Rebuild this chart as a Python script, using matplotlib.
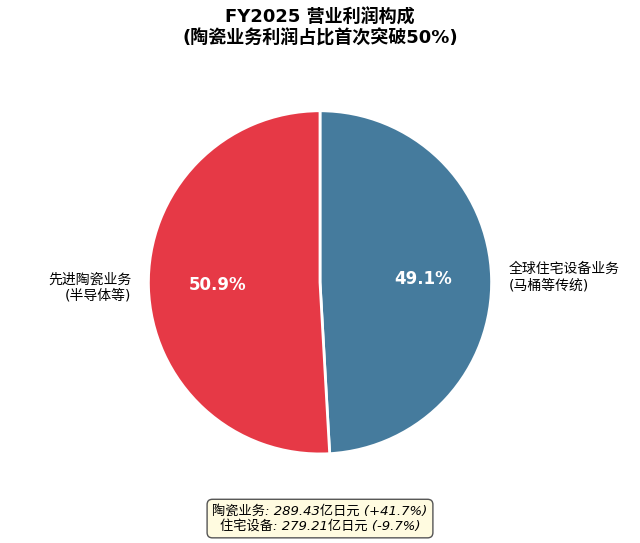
import matplotlib
matplotlib.use("Agg")
import matplotlib.pyplot as plt

plt.rcParams['font.family'] = ['DejaVu Sans', 'Noto Sans CJK SC']

labels = ['全球住宅设备业务\n(马桶等传统)', '先进陶瓷业务\n(半导体等)']
values = [279.21, 289.43]
colors = ['#457B9D', '#E63946']
title = 'FY2025 营业利润构成\n(陶瓷业务利润占比首次突破50%)'
note = '陶瓷业务: 289.43亿日元 (+41.7%)\n住宅设备: 279.21亿日元 (-9.7%)'

fig = plt.figure(figsize=(6.4, 5.43), dpi=100)
ax = fig.add_axes([0.0, 0.085, 1.0, 0.79])
wedges, texts, autotexts = ax.pie(values, labels=labels, colors=colors, startangle=90,
                                  counterclock=False, autopct='%1.1f%%', pctdistance=0.6,
                                  labeldistance=1.1,
                                  wedgeprops=dict(edgecolor='white', linewidth=2),
                                  textprops=dict(fontsize=10))
for t in autotexts:
    t.set_color('white'); t.set_fontsize(12); t.set_fontweight('bold')
ax.set_aspect('equal')
fig.suptitle(title, fontsize=13, fontweight='bold', y=0.985)
fig.text(0.5, 0.045, note, ha='center', va='center', fontsize=9.5, style='italic',
         bbox=dict(boxstyle='round,pad=0.4', facecolor='#FFFBE0', edgecolor='#555555'))
fig.savefig('out.png', dpi=100)
